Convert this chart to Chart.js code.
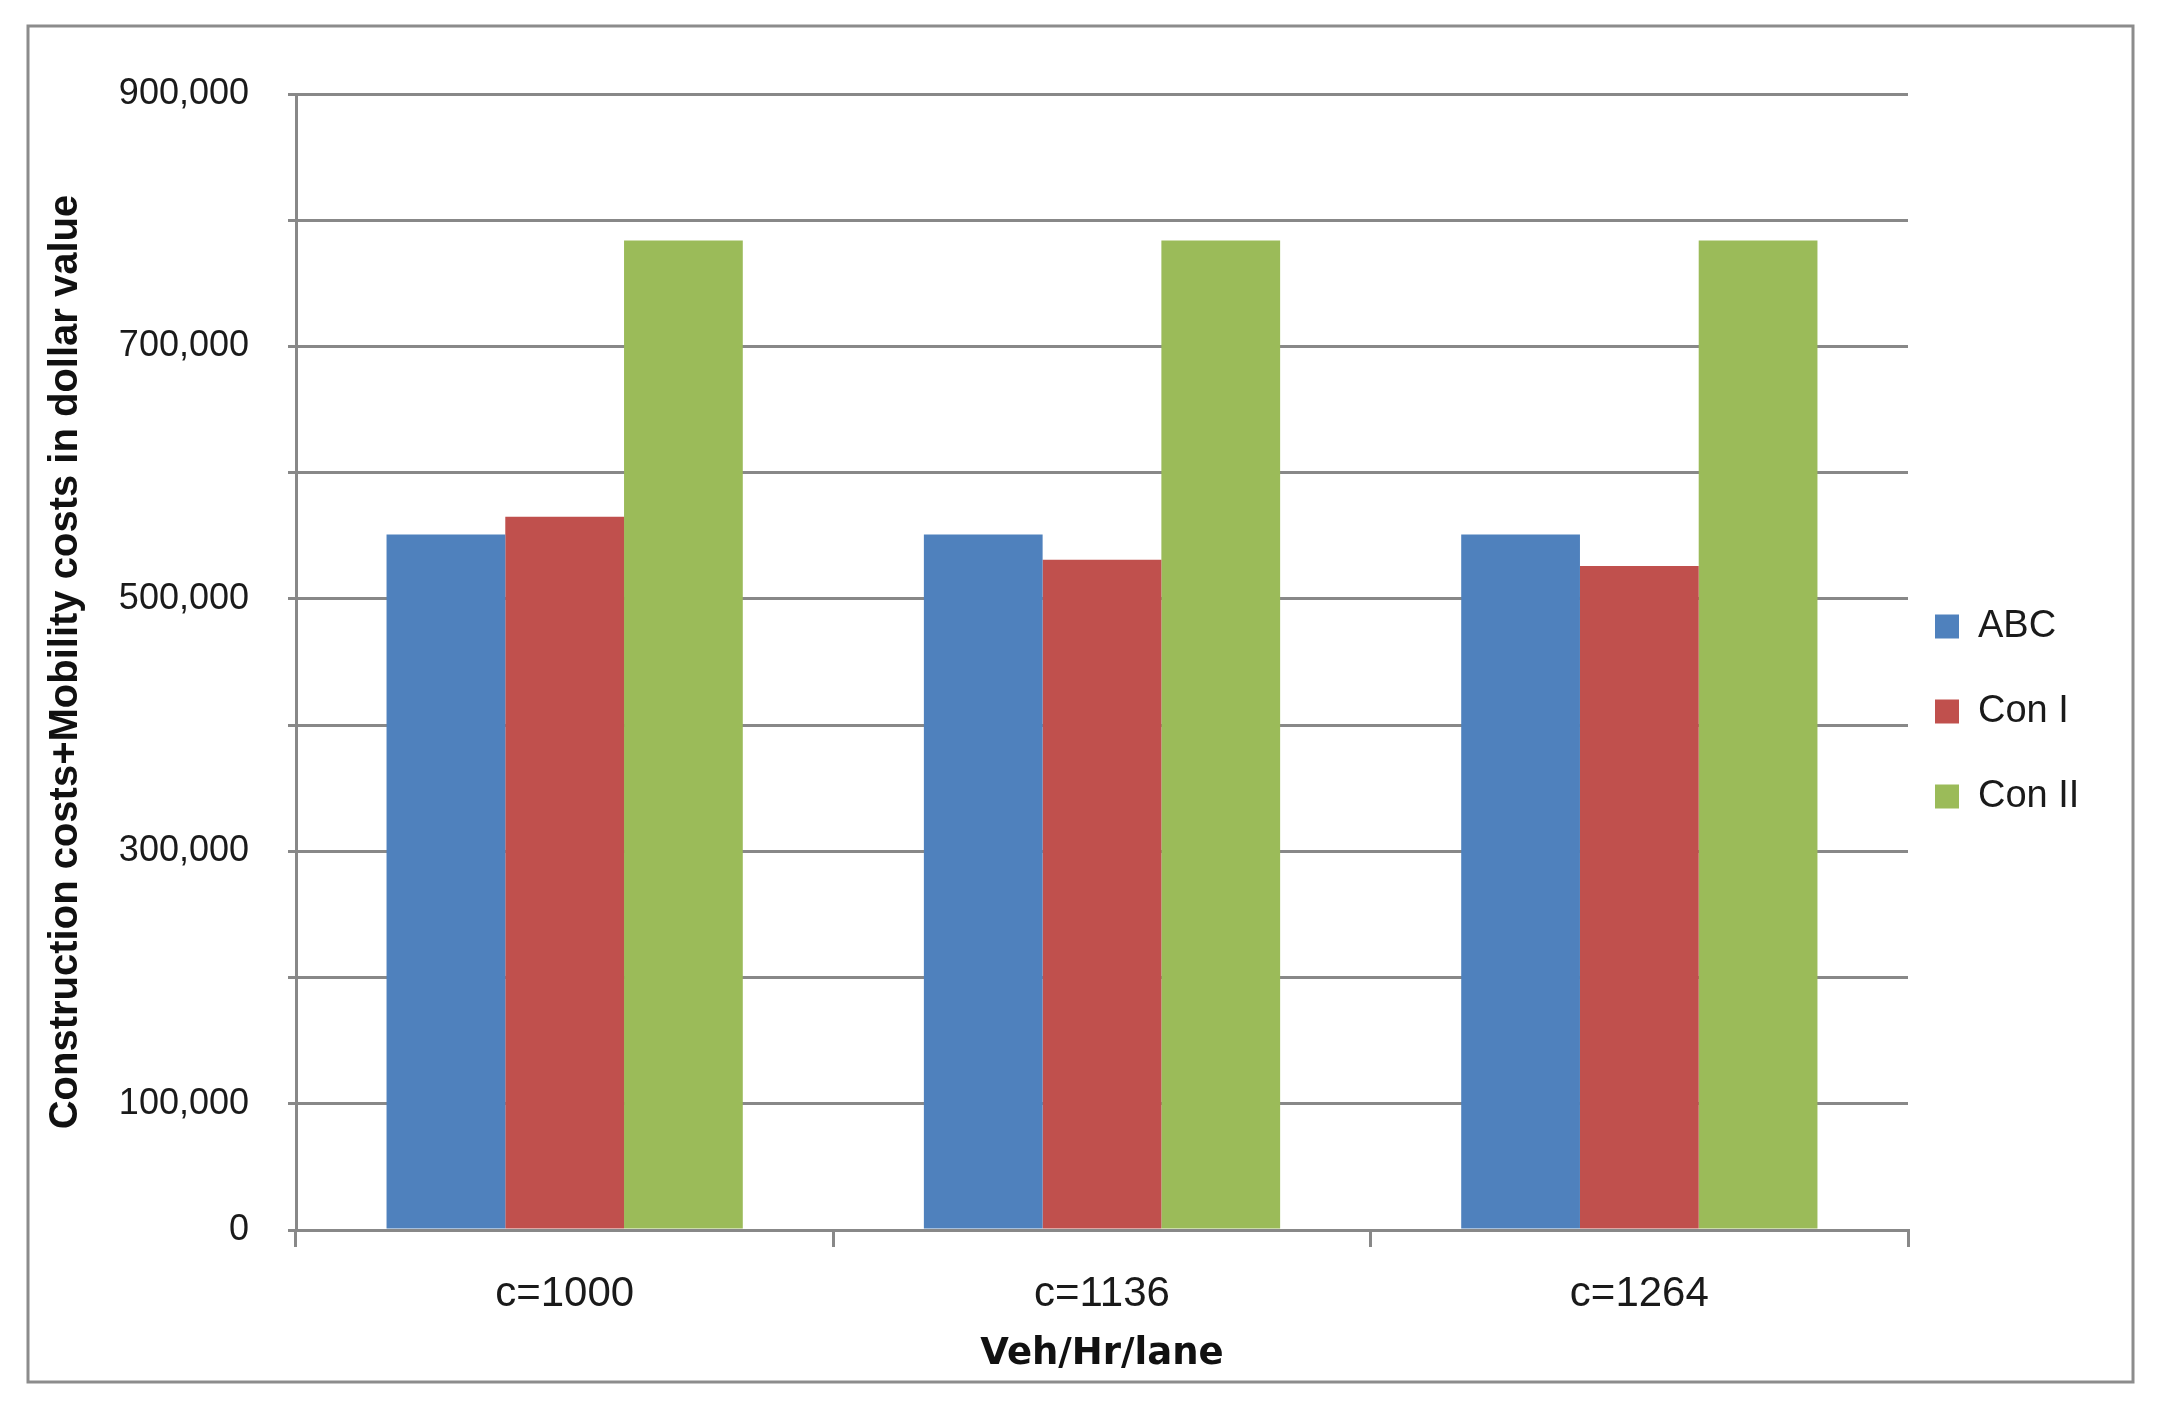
<!DOCTYPE html>
<html>
<head>
<meta charset="utf-8">
<script src="https://cdn.jsdelivr.net/npm/chart.js@4"></script>
<style>
html,body{margin:0;padding:0;background:#fff;}
#wrap{width:2160px;height:1410px;}
</style>
</head>
<body>
<div id="wrap"><canvas id="c" width="2160" height="1410"></canvas></div>
<script>
// ---- data ----
const categories = ['c=1000', 'c=1136', 'c=1264'];
const seriesNames = ['ABC', 'Con I', 'Con II'];
const abcValues  = [551000, 551000, 551000];
const con1Values = [565000, 531000, 526000];
const con2Values = [784000, 784000, 784000];
const yTickLabels = ['0', '100,000', '', '300,000', '', '500,000', '', '700,000', '', '900,000'];
const xTitle = 'Veh/Hr/lane';
const yTitle = 'Construction costs+Mobility costs in dollar value';

// ---- styles ----
const colors = ['#4F81BD', '#C0504D', '#9BBB59'];
const gridColor = '#888888';

const framePlugin = {
  id: 'frame',
  beforeDraw(chart) {
    const ctx = chart.ctx;
    ctx.save();
    ctx.fillStyle = '#ffffff';
    ctx.fillRect(0, 0, chart.width, chart.height);
    ctx.strokeStyle = '#8c8c8c';
    ctx.lineWidth = 3;
    ctx.strokeRect(28, 26, 2105, 1356);
    ctx.restore();
  }
};

const legendShift = { dx: -20, dy: -24 };
const legendPlacePlugin = {
  id: 'legendPlace',
  afterLayout(chart) {
    const lg = chart.legend;
    if (!lg) return;
    lg.left += legendShift.dx; lg.right += legendShift.dx;
    lg.top += legendShift.dy; lg.bottom += legendShift.dy;
  }
};

const seriesValues = [abcValues, con1Values, con2Values];

new Chart(document.getElementById('c'), {
  type: 'bar',
  data: {
    labels: categories,
    datasets: seriesNames.map((name, i) => ({
      label: name,
      data: seriesValues[i],
      backgroundColor: colors[i],
      borderWidth: 0,
      barPercentage: 1.0,
      categoryPercentage: 0.663
    }))
  },
  options: {
    responsive: false,
    animation: false,
    devicePixelRatio: 1,
    layout: { padding: { left: 20, top: 94, right: 57, bottom: 33 } },
    plugins: {
      tooltip: { enabled: false },
      legend: {
        position: 'right',
        maxWidth: 195,
        labels: {
          boxWidth: 24,
          boxHeight: 24,
          padding: 47,
          color: '#1a1a1a',
          font: { family: 'Liberation Sans', size: 38 }
        }
      }
    },
    scales: {
      x: {
        grid: {
          display: true,
          drawOnChartArea: false,
          drawTicks: true,
          tickLength: 17,
          color: gridColor,
          lineWidth: 3,
          offset: true
        },
        border: { display: true, color: gridColor, width: 3 },
        ticks: {
          color: '#1a1a1a',
          padding: 22,
          font: { family: 'Liberation Sans', size: 42 }
        },
        title: {
          display: true,
          text: xTitle,
          color: '#111',
          padding: { top: 0, bottom: 0 },
          font: { family: 'DejaVu Sans', weight: 'bold', size: 37 }
        },
        afterFit(scale) { scale.height = 147; }
      },
      y: {
        min: 0,
        max: 900000,
        grid: {
          color: gridColor,
          lineWidth: 3,
          drawTicks: true,
          tickLength: 8
        },
        border: { display: true, color: gridColor, width: 3 },
        ticks: {
          stepSize: 100000,
          autoSkip: false,
          color: '#1a1a1a',
          padding: 39,
          font: { family: 'Liberation Sans', size: 36 },
          callback: (v, i) => yTickLabels[i]
        },
        title: {
          display: true,
          text: yTitle,
          color: '#111',
          padding: { top: 22, bottom: 0 },
          font: { family: 'Liberation Sans', weight: 'bold', size: 40 }
        },
        afterFit(scale) { scale.width = 276; }
      }
    }
  },
  plugins: [framePlugin, legendPlacePlugin]
});
</script>
</body>
</html>
